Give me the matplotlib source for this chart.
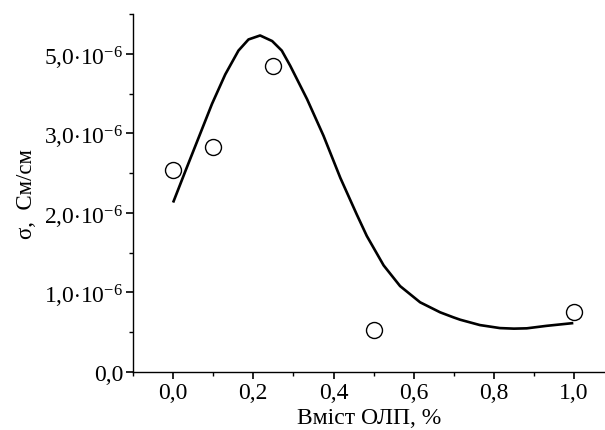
import numpy as np
import matplotlib
matplotlib.use("Agg")
import matplotlib.pyplot as plt
from matplotlib.ticker import MultipleLocator

plt.rcParams['font.family'] = ['Liberation Serif', 'DejaVu Serif']
plt.rcParams['mathtext.fontset'] = 'custom'
plt.rcParams['mathtext.rm'] = 'Liberation Serif'
plt.rcParams['mathtext.it'] = 'Liberation Serif:italic'

# measured points
x_pts = [0.0, 0.1, 0.25, 0.5, 1.0]
y_pts = [2.54e-6, 2.83e-6, 3.85e-6, 0.53e-6, 0.75e-6]

# fitted curve
x_fit = [0.0, 0.031, 0.064, 0.097, 0.130, 0.163, 0.188, 0.217, 0.247, 0.271,
         0.292, 0.334, 0.375, 0.417, 0.458, 0.483, 0.525, 0.566, 0.616,
         0.666, 0.699, 0.716, 0.765, 0.815, 0.850, 0.882, 0.931, 0.998]
y_fit = [2.13, 2.53, 2.95, 3.37, 3.74, 4.04, 4.18, 4.23, 4.16, 4.04,
         3.85, 3.43, 2.97, 2.44, 1.98, 1.71, 1.34, 1.08, 0.876,
         0.75, 0.687, 0.657, 0.59, 0.552, 0.545, 0.549, 0.58, 0.615]
y_fit = [v * 1e-6 for v in y_fit]

x_ticks = [0.0, 0.2, 0.4, 0.6, 0.8, 1.0]
x_labels = ['0,0', '0,2', '0,4', '0,6', '0,8', '1,0']
y_ticks = [0.0, 1e-6, 2e-6, 3e-6, 4e-6]
y_labels = ['0,0', r'1,0$\cdot$10$^{-6}$', r'2,0$\cdot$10$^{-6}$',
            r'3,0$\cdot$10$^{-6}$', r'5,0$\cdot$10$^{-6}$']

fig = plt.figure(figsize=(6.05, 4.31), dpi=100)
ax = fig.add_axes([133 / 605, 1 - 373 / 431, 1 - 133 / 605, (373 - 15) / 431])

ax.plot(x_fit, y_fit, color='black', lw=1.9, solid_capstyle='butt', solid_joinstyle='round')
ax.plot(x_pts, y_pts, 'o', ms=11.5, mfc='white', mec='black', mew=1.0)

ax.set_xlim(-0.1, 1.077)
ax.set_ylim(0, 4.5e-6)
ax.set_xticks(x_ticks)
ax.set_xticklabels(x_labels)
ax.set_yticks(y_ticks)
ax.set_yticklabels(y_labels)
ax.xaxis.set_minor_locator(MultipleLocator(0.1))
ax.yaxis.set_minor_locator(MultipleLocator(0.5e-6))

for s in ['top', 'right']:
    ax.spines[s].set_visible(False)
for s in ['left', 'bottom']:
    ax.spines[s].set_linewidth(1.0)

ax.tick_params(which='major', direction='out', length=5, width=1.2, labelsize=17, pad=2)
ax.tick_params(which='minor', direction='out', length=3, width=1.0)

ax.set_xlabel('Вміст ОЛП, %', fontsize=17, labelpad=3)
ax.set_ylabel('σ,  См/см', fontsize=16.5, labelpad=5)

fig.savefig('out.png', dpi=100)
